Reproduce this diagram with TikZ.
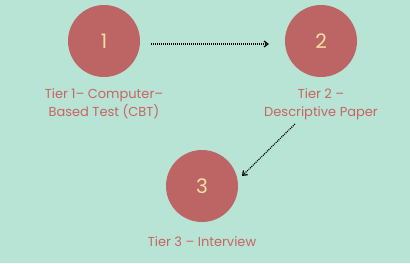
\documentclass[tikz,border=0pt]{standalone}
\usepackage{fontspec}
\setmainfont{Poppins}
\usetikzlibrary{arrows.meta}
\definecolor{bg}{HTML}{B7E4D4}
\definecolor{circ}{HTML}{BC6564}
\definecolor{num}{HTML}{F3DFA0}
\definecolor{lab}{HTML}{C86464}
\tikzset{
  tier/.style={circle,fill=circ,minimum size=72pt,inner sep=0pt,text=num,font=\fontsize{20}{20}\selectfont},
  lbl/.style={text=lab,font=\fontsize{13}{18}\selectfont,align=center},
  flow/.style={dash pattern=on 1pt off 1pt,line width=1.2pt,-{Straight Barb[length=4pt,width=6pt]}}
}
\begin{document}
\begin{tikzpicture}[x=1pt,y=-1pt]
\fill[bg] (0,0) rectangle (410,263);
\useasboundingbox (0,0) rectangle (410,263);
\node[tier] (c1) at (104,41) {1};
\node[tier] (c2) at (321,41) {2};
\node[tier] (c3) at (202,186) {3};
\node[lbl] (l1) at (104,104) {Tier 1– Computer–\\Based Test (CBT)};
\node[lbl] (l2) at (321,104) {Tier 2 –\\Descriptive Paper};
\node[lbl] (l3) at (202,242) {Tier 3 – Interview};
\coordinate (a1s) at (151,44);
\coordinate (a1e) at (269,44);
\coordinate (a2s) at (295,124);
\coordinate (a2e) at (242,176);
\draw[flow] (a1s) -- (a1e);
\draw[flow] (a2s) -- (a2e);
\end{tikzpicture}
\end{document}
